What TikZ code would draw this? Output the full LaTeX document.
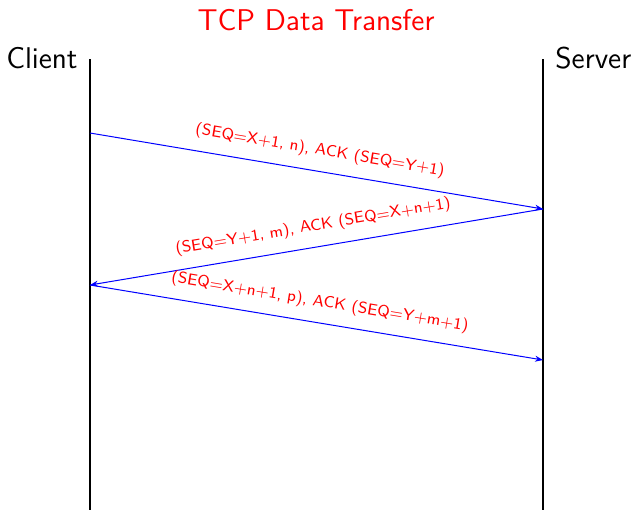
\documentclass[tikz,border=0pt]{standalone}
\usetikzlibrary{arrows.meta}
\begin{document}
\begin{tikzpicture}[x=0.5pt,y=-0.5pt,
  life/.style={line width=1pt,black},
  msg/.style={blue,line width=0.5pt,-{Stealth[length=4pt,width=3pt]}},
  lbl/.style={red,font=\sffamily\footnotesize,inner sep=1pt},
  actor/.style={font=\sffamily\fontsize{15}{18}\selectfont,inner sep=0pt}]
\useasboundingbox (0,0) rectangle (631,510);
\node[red,font=\sffamily\fontsize{15}{18}\selectfont] (title) at (316,20) {TCP Data Transfer};
\coordinate (ctop) at (90,59);
\coordinate (cbot) at (90,510);
\coordinate (stop) at (543,59);
\coordinate (sbot) at (543,510);
\node[actor,anchor=base east] (client) at (78,68) {Client};
\node[actor,anchor=base west] (server) at (555,68) {Server};
\draw[life] (ctop) -- (cbot);
\draw[life] (stop) -- (sbot);
\coordinate (c1) at (90,133);
\coordinate (s1) at (543,209);
\coordinate (c2) at (90,285);
\coordinate (s2) at (543,360);
\draw[msg] (c1) -- node[lbl,above=5pt,sloped] {(SEQ=X+1, n), ACK (SEQ=Y+1)} (s1);
\draw[msg] (s1) -- node[lbl,above=5pt,sloped] {(SEQ=Y+1, m), ACK (SEQ=X+n+1)} (c2);
\draw[msg] (c2) -- node[lbl,above=5pt,sloped] {(SEQ=X+n+1, p), ACK (SEQ=Y+m+1)} (s2);
\end{tikzpicture}
\end{document}
